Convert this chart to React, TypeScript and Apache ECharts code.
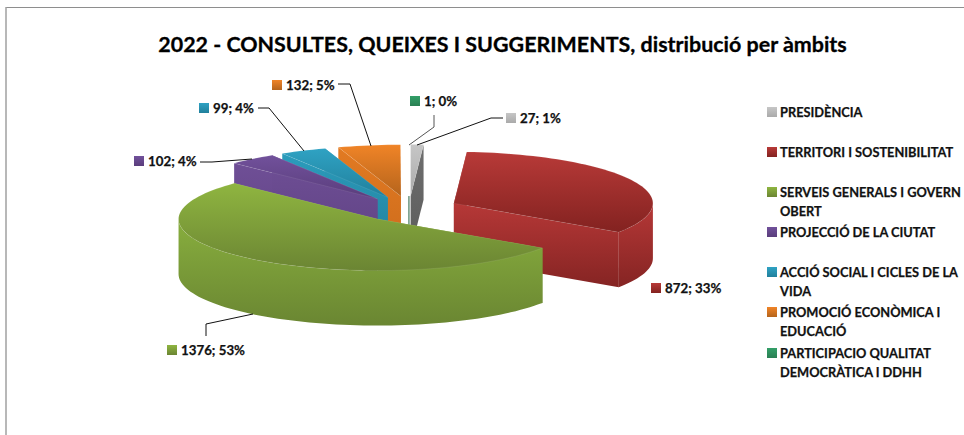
import React, { useEffect, useRef } from "react";
import * as echarts from "echarts";

const titleText = "2022 - CONSULTES, QUEIXES I SUGGERIMENTS, distribució per àmbits";
const categories = [
  "PRESIDÈNCIA",
  "TERRITORI I SOSTENIBILITAT",
  "SERVEIS GENERALS I GOVERN\nOBERT",
  "PROJECCIÓ DE LA CIUTAT",
  "ACCIÓ SOCIAL I CICLES DE LA\nVIDA",
  "PROMOCIÓ ECONÒMICA I\nEDUCACIÓ",
  "PARTICIPACIO QUALITAT\nDEMOCRÀTICA I DDHH",
];
const values = [27, 872, 1376, 102, 99, 132, 1];
const topLight = ["#c6c6c6", "#b83a38", "#8fb540", "#71519b", "#2fa2c3", "#f08427", "#339f68"];
const topDark = ["#aaaaaa", "#832220", "#6b8533", "#5a3d7c", "#21809c", "#b5641c", "#2a7f53"];
const wallLight = ["#6e6e6e", "#b63837", "#88ae3e", "#6f4f96", "#2b9cbc", "#e27a22", "#2b8556"];
const wallDark = ["#5c5c5c", "#852423", "#6a8632", "#5f4283", "#23809c", "#cd6c1c", "#1f5f3e"];
const paintOrder = [6, 0, 5, 4, 3, 1, 2];

const FONT = "Lato, 'Open Sans', sans-serif";
const TEXT = "#111111";
const cx = 409;
const cy = 209;
const rx = 199;
const ry = 51.5;
const depth = 55;
const explode = 50;

const legendRowY = [112, 152, 192, 232, 272, 312, 353];
const labelAnchors: [number, number][] = [
  [506, 118], [651, 288], [167, 350], [134, 161], [199, 108], [272, 85], [410, 101],
];
const leaders: [number, number][][] = [
  [[503, 118], [491, 118], [417, 145]],
  [],
  [[206, 336], [206, 324], [253, 314]],
  [[200, 162], [212, 162], [252, 159]],
  [[258, 108], [269, 108], [304, 151]],
  [[338, 84], [350, 84], [371, 146]],
  [[434, 115], [434, 127], [409, 145]],
];

const total = values.reduce((a, b) => a + b, 0);
const grad = (a: string, b: string) => ({
  type: "linear", x: 0, y: 0, x2: 0, y2: 1,
  colorStops: [{ offset: 0, color: a }, { offset: 1, color: b }],
});
const pt = (ax: number, ay: number, deg: number): [number, number] => {
  const r = (deg * Math.PI) / 180;
  return [ax + rx * Math.sin(r), ay - ry * Math.cos(r)];
};
const arcPts = (ax: number, ay: number, a0: number, a1: number) => {
  const out: [number, number][] = [];
  const n = Math.max(1, Math.ceil((a1 - a0) / 2));
  for (let k = 0; k <= n; k++) out.push(pt(ax, ay, a0 + ((a1 - a0) * k) / n));
  return out;
};

function renderSlice(params: any, api: any) {
  const idx = api.value(1) as number;
  const value = api.value(0) as number;
  const before = values.slice(0, idx).reduce((a, b) => a + b, 0);
  const a0 = (before / total) * 360;
  const a1 = a0 + (value / total) * 360;
  const mid = ((a0 + a1) / 2) * (Math.PI / 180);
  const ax = cx + explode * Math.sin(mid);
  const ay = cy - explode * (ry / rx) * Math.cos(mid);
  const children: any[] = [];
  const face = (points: [number, number][], fill: any, stroke?: string) => ({
    type: "polygon",
    silent: true,
    shape: { points },
    style: { fill, stroke: stroke || "none", lineWidth: stroke ? 0.6 : 0 },
  });
  const wallGrad = grad(wallLight[idx], wallDark[idx]);
  const thin = value / total < 0.002;
  const edge = thin ? wallDark[idx] : undefined;
  const cut = (deg: number) => {
    const o = pt(ax, ay, deg);
    return face([[ax, ay], o, [o[0], o[1] + depth], [ax, ay + depth]], wallGrad, edge);
  };
  if (thin) {
    children.push({
      type: "line",
      silent: true,
      shape: { x1: ax, y1: ay, x2: ax, y2: ay + depth },
      style: { stroke: wallDark[idx], lineWidth: 1 },
    });
  } else {
    children.push(cut(a0));
    children.push(cut(a1));
  }
  const w0 = Math.max(a0, 90);
  const w1 = Math.min(a1, 270);
  if (w1 > w0) {
    const upper = arcPts(ax, ay, w0, w1);
    const lower = upper.map(([x, y]) => [x, y + depth] as [number, number]).reverse();
    children.push(face([...upper, ...lower], wallGrad));
  }
  if (!thin) {
    children.push(face([[ax, ay], ...arcPts(ax, ay, a0, a1)], grad(topLight[idx], topDark[idx]), "rgba(255,255,255,0.14)"));
  }
  if (leaders[idx].length) {
    children.push({
      type: "polyline",
      silent: true,
      shape: { points: leaders[idx] },
      style: { fill: "none", stroke: idx === 6 ? "#555555" : "#111111", lineWidth: 1 },
    });
  }
  const [lx, ly] = labelAnchors[idx];
  children.push({
    type: "rect",
    silent: true,
    shape: { x: lx, y: ly - 5, width: 10, height: 10 },
    style: { fill: grad(topLight[idx], topDark[idx]) },
  });
  children.push({
    type: "text",
    silent: true,
    style: {
      x: lx + 14,
      y: ly,
      text: `${value}; ${Math.round((value / total) * 100)}%`,
      fontFamily: FONT,
      fontWeight: "bold",
      fontSize: 13.3,
      fill: TEXT,
      stroke: TEXT,
      lineWidth: 0.25,
      verticalAlign: "middle",
      align: "left",
    },
  });
  return { type: "group", children };
}

export default function App() {
  const ref = useRef<HTMLDivElement>(null);
  useEffect(() => {
    document.body.style.margin = "0";
    const chart = echarts.init(ref.current!, null, { renderer: "svg" });
    const legendGraphics: any[] = [];
    categories.forEach((name, i) => {
      legendGraphics.push({
        type: "rect",
        shape: { x: 767, y: legendRowY[i] - 5, width: 10, height: 10 },
        style: { fill: grad(topLight[i], topDark[i]) },
      });
      legendGraphics.push({
        type: "text",
        x: 780,
        y: legendRowY[i] - 9.25,
        style: {
          text: name,
          fontFamily: FONT,
          fontWeight: "bold",
          fontSize: 12.8,
          lineHeight: 18.5,
          fill: TEXT,
          stroke: TEXT,
          lineWidth: 0.25,
        },
      });
    });
    chart.setOption({
      animation: false,
      backgroundColor: "#ffffff",
      title: {
        text: titleText,
        left: 497.5,
        top: 28,
        textAlign: "center",
        textStyle: {
          fontFamily: FONT,
          fontWeight: "bold",
          fontSize: 21.45,
          color: "#000000",
          textBorderColor: "#000000",
          textBorderWidth: 0.3,
        },
      },
      graphic: [
        { type: "line", shape: { x1: 6, y1: 7.5, x2: 964, y2: 7.5 }, style: { stroke: "#8e8e8e", lineWidth: 1.2 } },
        { type: "line", shape: { x1: 6, y1: 7, x2: 6, y2: 435 }, style: { stroke: "#a0a0a0", lineWidth: 1.5 } },
        ...legendGraphics,
      ],
      series: [
        {
          type: "custom",
          coordinateSystem: "none",
          renderItem: renderSlice,
          silent: true,
          data: paintOrder.map((i) => ({ name: categories[i], value: [values[i], i] })),
        },
      ],
    });
    return () => chart.dispose();
  }, []);
  return <div ref={ref} style={{ width: 964, height: 435 }} />;
}
